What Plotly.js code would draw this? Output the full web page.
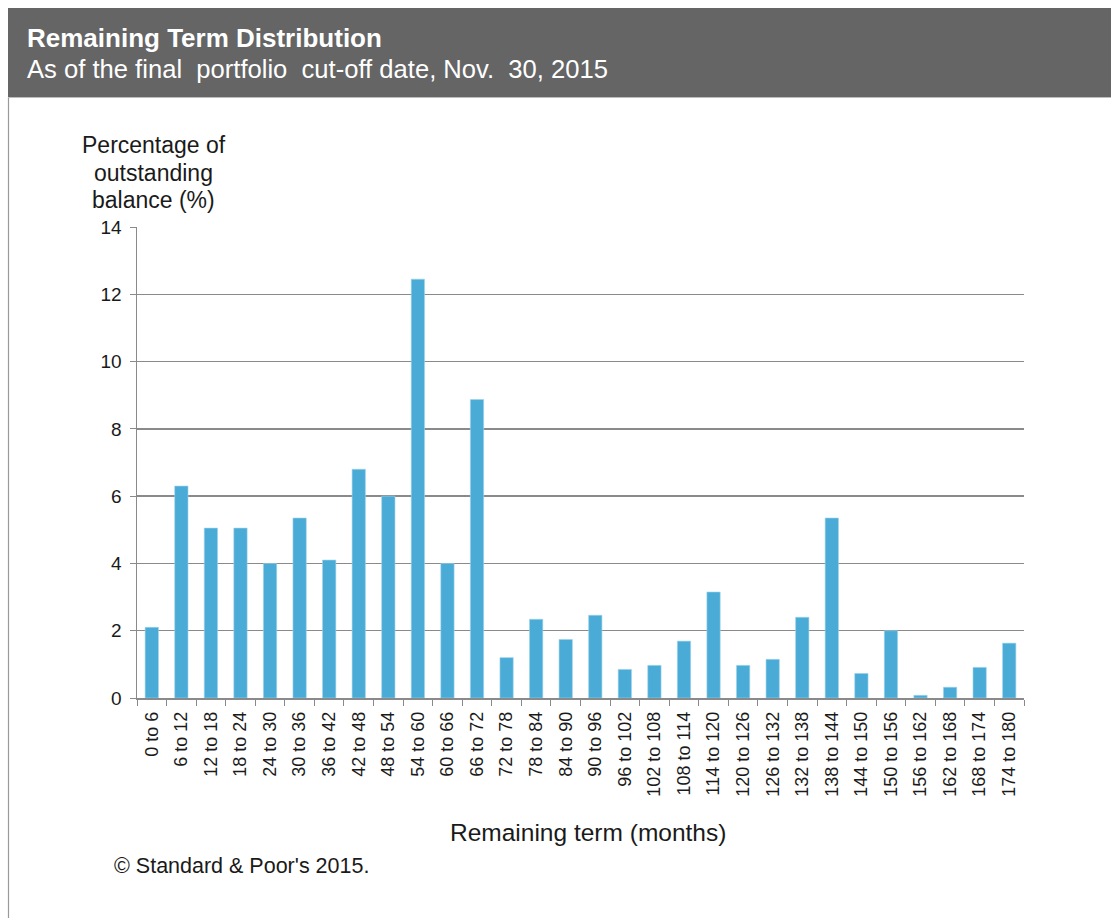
<!DOCTYPE html>
<html>
<head>
<meta charset="utf-8">
<script src="https://cdn.plot.ly/plotly-3.0.1.min.js"></script>
<style>
html,body{margin:0;padding:0;background:#fff;}
#chart{width:1111px;height:918px;}
</style>
</head>
<body>
<div id="chart"></div>
<script>
const categories = ["0 to 6","6 to 12","12 to 18","18 to 24","24 to 30","30 to 36","36 to 42","42 to 48","48 to 54","54 to 60","60 to 66","66 to 72","72 to 78","78 to 84","84 to 90","90 to 96","96 to 102","102 to 108","108 to 114","114 to 120","120 to 126","126 to 132","132 to 138","138 to 144","144 to 150","150 to 156","156 to 162","162 to 168","168 to 174","174 to 180"];
const balancePct = [2.1,6.3,5.05,5.05,4.0,5.35,4.1,6.8,6.0,12.45,4.0,8.87,1.2,2.34,1.74,2.46,0.85,0.97,1.69,3.15,0.97,1.15,2.4,5.35,0.73,2.0,0.08,0.32,0.91,1.63];
const yTicks = [0,2,4,6,8,10,12,14];
const yTitleLines = ["Percentage of", "outstanding", "balance (%)"];

const W = 1111, H = 918;
const L = 137, R = 1024, T = 227, B = 698;
const px = x => (x - L) / (R - L);
const py = y => (B - y) / (B - T);
const font = "Arial, 'Liberation Sans', sans-serif";

const trace = {
  type: "bar",
  x: categories,
  y: balancePct,
  marker: {color: "#4aabd6", line: {color: "#9fd3ec", width: 0.6}},
  hoverinfo: "x+y"
};

const yTitleY = [145, 173, 200];
const yTitleAnns = yTitleLines.map((t, i) => ({
  text: t, xref: "paper", yref: "paper", x: px(153.5), y: py(yTitleY[i]),
  xanchor: "center", yanchor: "middle", showarrow: false,
  font: {family: font, size: 23, color: "#1a1a1a"}
}));

const layout = {
  width: W, height: H,
  margin: {l: L, r: W - R, t: T, b: H - B, pad: 0},
  paper_bgcolor: "#ffffff",
  plot_bgcolor: "#ffffff",
  showlegend: false,
  bargap: 0.55,
  font: {family: font, color: "#1a1a1a", size: 14},
  xaxis: {
    type: "category",
    tickangle: -90,
    ticks: "outside",
    ticklen: 6,
    tickcolor: "#8a8a8a",
    tickson: "boundaries",
    ticklabelstandoff: 5,
    showline: true,
    linecolor: "#8a8a8a",
    linewidth: 1.5,
    showgrid: false,
    tickfont: {family: font, size: 18, color: "#1a1a1a"},
    fixedrange: true
  },
  yaxis: {
    range: [0, 14],
    tickvals: yTicks,
    ticktext: yTicks.map(String),
    ticks: "outside",
    ticklen: 6,
    tickcolor: "#8a8a8a",
    ticklabelstandoff: 4,
    showline: true,
    linecolor: "#8a8a8a",
    linewidth: 1.5,
    showgrid: true,
    gridcolor: "#8a8a8a",
    gridwidth: 1.3,
    zeroline: false,
    tickfont: {family: font, size: 19, color: "#1a1a1a"},
    fixedrange: true
  },
  shapes: [
    {type: "rect", xref: "paper", yref: "paper", x0: px(8), x1: px(1111), y0: py(97), y1: py(8),
     fillcolor: "#656565", line: {width: 0}, layer: "below"},
    {type: "line", xref: "paper", yref: "paper", x0: px(8.5), x1: px(8.5), y0: py(97), y1: py(918),
     line: {color: "#9a9a9a", width: 1.2}, layer: "below"},
    {type: "line", xref: "paper", yref: "paper", x0: px(8), x1: px(1111), y0: py(97.5), y1: py(97.5),
     line: {color: "#bdbdbd", width: 1}, layer: "below"}
  ],
  annotations: [
    {text: "<b>Remaining Term Distribution</b>", xref: "paper", yref: "paper", x: px(25), y: py(38),
     xanchor: "left", yanchor: "middle", showarrow: false, font: {family: font, size: 26, color: "#ffffff"}},
    {text: "As of the final  portfolio  cut-off date, Nov.  30, 2015", xref: "paper", yref: "paper", x: px(25), y: py(69),
     xanchor: "left", yanchor: "middle", showarrow: false, font: {family: font, size: 25.6, color: "#ffffff"}},
    ...yTitleAnns,
    {text: "Remaining term (months)", xref: "paper", yref: "paper", x: px(588), y: py(832),
     xanchor: "center", yanchor: "middle", showarrow: false, font: {family: font, size: 24.5, color: "#1a1a1a"}},
    {text: "© Standard &amp; Poor's 2015.", xref: "paper", yref: "paper", x: px(112), y: py(866),
     xanchor: "left", yanchor: "middle", showarrow: false, font: {family: font, size: 21.5, color: "#1a1a1a"}}
  ]
};

Plotly.newPlot("chart", [trace], layout, {displayModeBar: false, staticPlot: true});
</script>
</body>
</html>
